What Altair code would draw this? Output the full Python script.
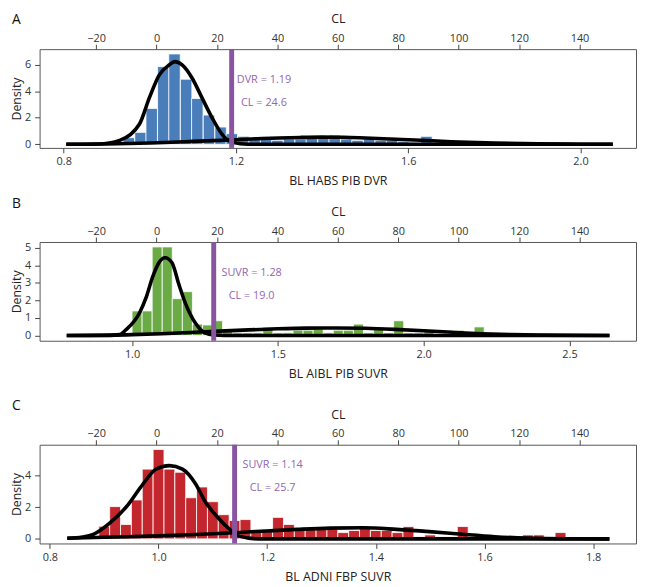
import altair as alt
import pandas as pd

FONT = "Open Sans"
W, H = 604, 100
PURPLE_LINE = "#8a55a0"
PURPLE_TEXT = "#9266b0"

CL_DOMAIN = [-38.7, 158.7]
CL_TICKS = [-20, 0, 20, 40, 60, 80, 100, 120, 140]

# ---------------- Panel A : HABS PIB DVR ----------------
a_bin_left = [0.938, 0.965, 0.991, 1.018, 1.044, 1.071, 1.097, 1.124, 1.151, 1.177,
              1.204, 1.230, 1.257, 1.283, 1.310, 1.337, 1.363, 1.390, 1.416, 1.443,
              1.469, 1.496, 1.523, 1.549, 1.576, 1.602, 1.629]
a_bin_width = 0.0266
a_density = [0.5, 0.9, 2.7, 5.85, 6.8, 4.9, 3.45, 2.2, 1.3, 0.8,
             0.6, 0.4, 0.4, 0.3, 0.4, 0.4, 0.45, 0.5, 0.7, 0.4,
             0.3, 0.4, 0.3, 0.3, 0.2, 0.15, 0.6]
a_c1_x = [0.806, 0.88, 0.93, 0.976, 0.999, 1.022, 1.045, 1.058, 1.075, 1.098,
          1.121, 1.144, 1.167, 1.182, 1.21, 1.25, 1.35, 1.6, 2.075]
a_c1_y = [0.0, 0.03, 0.3, 1.53, 3.51, 5.23, 5.97, 6.22, 5.97, 4.99,
          3.51, 2.03, 0.79, 0.3, 0.05, 0.0, 0.0, 0.0, 0.0]
a_c2_x = [0.806, 0.9, 1.0, 1.1, 1.2, 1.25, 1.3, 1.35, 1.4, 1.45, 1.5, 1.6,
          1.7, 1.8, 1.9, 2.0, 2.075]
a_c2_y = [0.0, 0.03, 0.1, 0.22, 0.35, 0.42, 0.48, 0.52, 0.54, 0.53, 0.48, 0.35,
          0.2, 0.1, 0.04, 0.01, 0.0]
a_cut = 1.19
a_cl = 24.6
a_labels = ["DVR = 1.19", "CL = 24.6"]
a_label_x = [1.265, 1.265]
a_label_y = [4.81, 3.07]
a_xdomain = [0.744, 2.129]
a_ydomain = [-0.27, 7.16]
a_xticks = [0.8, 1.2, 1.6, 2.0]
a_yticks = [0, 2, 4, 6]

# ---------------- Panel B : AIBL PIB SUVR ----------------
b_bin_left = [1.000, 1.0345, 1.069, 1.1035, 1.138, 1.1725, 1.207, 1.2415, 1.276, 1.3105,
              1.345, 1.3795, 1.414, 1.4485, 1.483, 1.5175, 1.552, 1.5865, 1.621, 1.6555,
              1.69, 1.7245, 1.759, 1.7935, 1.828, 1.8625, 1.897, 1.9315, 1.966, 2.0005,
              2.104, 2.173, 2.38, 2.4145]
b_bin_width = 0.0345
b_density = [1.4, 1.4, 5.05, 5.05, 2.1, 2.5, 0.65, 0.6, 0.84, 0.28,
             0.15, 0.15, 0.15, 0.47, 0.15, 0.15, 0.3, 0.3, 0.43, 0.15,
             0.3, 0.3, 0.65, 0.15, 0.47, 0.15, 0.84, 0.15, 0.15, 0.3,
             0.3, 0.49, 0.1, 0.1]
b_c1_x = [0.776, 0.9, 0.957, 0.98, 1.025, 1.049, 1.07, 1.092, 1.113, 1.137,
          1.16, 1.183, 1.217, 1.25, 1.28, 1.35, 1.6, 2.637]
b_c1_y = [0.0, 0.0, 0.05, 0.34, 1.27, 2.2, 3.31, 4.15, 4.43, 4.15,
          2.94, 1.83, 0.71, 0.15, 0.03, 0.0, 0.0, 0.0]
b_c2_x = [0.776, 1.0, 1.1, 1.2, 1.3, 1.4, 1.5, 1.6, 1.7, 1.8, 1.9, 2.0,
          2.1, 2.2, 2.3, 2.4, 2.637]
b_c2_y = [0.0, 0.05, 0.1, 0.17, 0.25, 0.32, 0.38, 0.42, 0.43, 0.41, 0.35, 0.27,
          0.18, 0.1, 0.05, 0.02, 0.0]
b_cut = 1.28
b_cl = 19.0
b_labels = ["SUVR = 1.28", "CL = 19.0"]
b_label_x = [1.41, 1.41]
b_label_y = [3.55, 2.23]
b_xdomain = [0.683, 2.728]
b_ydomain = [-0.3, 5.33]
b_xticks = [1.0, 1.5, 2.0, 2.5]
b_yticks = [0, 1, 2, 3, 4, 5]

# ---------------- Panel C : ADNI FBP SUVR ----------------
c_bin_left = [0.89, 0.91, 0.93, 0.95, 0.97, 0.99, 1.01, 1.03, 1.05, 1.07,
              1.09, 1.11, 1.13, 1.15, 1.17, 1.19, 1.21, 1.23, 1.25, 1.27,
              1.29, 1.31, 1.33, 1.35, 1.37, 1.39, 1.41, 1.43, 1.45, 1.47,
              1.49, 1.51, 1.53, 1.55, 1.57, 1.61, 1.67, 1.69, 1.73]
c_bin_width = 0.02
c_density = [0.8, 2.04, 0.91, 2.46, 4.41, 5.65, 4.41, 4.21, 2.6, 3.28,
             2.35, 1.53, 1.16, 1.22, 0.45, 0.6, 1.36, 0.91, 0.6, 0.6,
             0.6, 0.6, 0.4, 0.53, 0.78, 0.53, 0.53, 0.4, 0.78, 0.13,
             0.25, 0.13, 0.13, 0.78, 0.13, 0.13, 0.25, 0.25, 0.4]
c_c1_x = [0.832, 0.86, 0.88, 0.91, 0.94, 0.971, 0.995, 1.02, 1.044, 1.068, 1.086,
          1.11, 1.129, 1.147, 1.183, 1.25, 1.5, 1.83]
c_c1_y = [0.04, 0.12, 0.29, 1.0, 2.0, 3.45, 4.4, 4.63, 4.41, 3.49, 2.35,
          1.32, 0.66, 0.19, 0.0, 0.0, 0.0, 0.0]
c_c2_x = [0.832, 0.9, 1.0, 1.07, 1.14, 1.2, 1.256, 1.316, 1.377, 1.438,
          1.498, 1.559, 1.619, 1.68, 1.75, 1.83]
c_c2_y = [0.04, 0.1, 0.19, 0.28, 0.39, 0.5, 0.6, 0.68, 0.7, 0.6,
          0.46, 0.29, 0.14, 0.05, 0.01, 0.0]
c_cut = 1.14
c_cl = 25.7
c_labels = ["SUVR = 1.14", "CL = 25.7"]
c_label_x = [1.21, 1.21]
c_label_y = [4.64, 3.2]
c_xdomain = [0.781, 1.879]
c_ydomain = [-0.29, 5.95]
c_xticks = [0.8, 1.0, 1.2, 1.4, 1.6, 1.8]
c_yticks = [0, 2, 4]

TITLE_X = -23


def panel(letter, letter_y, color, bin_left, bin_width, density,
          c1x, c1y, c2x, c2y, cut, cl, labels, lx, ly,
          xdom, ydom, xticks, yticks, xtitle, spacer_y=None):
    xs = alt.Scale(domain=xdom, nice=False, zero=False)
    ys = alt.Scale(domain=ydom, nice=False, zero=False)
    xaxis = alt.Axis(values=xticks, format=".1f", title=xtitle, domain=False,
                     tickSize=5, tickColor="#444", labelPadding=3, grid=False,
                     titlePadding=8, labelOverlap=False, labelFlush=False)
    yaxis = alt.Axis(values=yticks, format="d", title="Density", domain=False, tickSize=5,
                     tickColor="#444", labelPadding=4, grid=False, labelOverlap=False,
                     labelFlush=False, labelBound=False,
                     titleX=TITLE_X, titleY=H / 2, titleAngle=-90,
                     titleBaseline="middle", titleAlign="center")

    def X(f):
        return alt.X(f, type="quantitative", scale=xs, axis=xaxis)

    def Y(f):
        return alt.Y(f, type="quantitative", scale=ys, axis=yaxis)

    bins = pd.DataFrame({"left": bin_left,
                         "right": [v + bin_width for v in bin_left],
                         "density": density,
                         "base": [0.0] * len(bin_left)})
    bars = alt.Chart(bins).mark_rect(color=color, stroke="white", strokeWidth=0.8).encode(
        x=X("left"), x2="right:Q", y=Y("density"), y2="base:Q")
    curve1 = alt.Chart(pd.DataFrame({"x": c1x, "y": c1y})).mark_line(
        color="black", strokeWidth=3.6, interpolate="monotone").encode(x=X("x"), y=Y("y"))
    curve2 = alt.Chart(pd.DataFrame({"x": c2x, "y": c2y})).mark_line(
        color="black", strokeWidth=3.6, interpolate="monotone").encode(x=X("x"), y=Y("y"))
    rule = alt.Chart(pd.DataFrame({"cut": [cut]})).mark_rule(
        color=PURPLE_LINE, strokeWidth=5).encode(x=X("cut"))
    ann = alt.Chart(pd.DataFrame({"x": lx, "y": ly, "t": labels})).mark_text(
        color=PURPLE_TEXT, fontSize=11, font=FONT, align="center", baseline="middle").encode(
        x=X("x"), y=Y("y"), text="t:N")
    let = alt.Chart(pd.DataFrame({"t": [letter]})).mark_text(
        fontSize=14, font=FONT, color="#111", align="center", baseline="alphabetic").encode(
        x=alt.value(TITLE_X - 0.5), y=alt.value(letter_y), text="t:N")
    layers = [bars, curve1, curve2, rule, ann, let]
    if spacer_y is not None:
        sp = alt.Chart(pd.DataFrame({"t": ["."]})).mark_text(
            fontSize=10, opacity=0, baseline="alphabetic").encode(
            x=alt.value(TITLE_X), y=alt.value(spacer_y), text="t:N")
        layers.append(sp)
    main = alt.layer(*layers)

    top = alt.Chart(pd.DataFrame({"cl": [cl]})).mark_point(opacity=0).encode(
        x=alt.X("cl:Q", scale=alt.Scale(domain=CL_DOMAIN, nice=False, zero=False),
                axis=alt.Axis(orient="top", values=CL_TICKS, title="CL", domain=False,
                              tickSize=5, tickColor="#444", labelPadding=1, grid=False,
                              titlePadding=6.6, labelOverlap=False, labelFlush=False)))
    return alt.layer(main, top).resolve_scale(x="independent").properties(width=W, height=H)


pa = panel("A", -25, "#4a7ebb", a_bin_left, a_bin_width, a_density,
           a_c1_x, a_c1_y, a_c2_x, a_c2_y, a_cut, a_cl, a_labels, a_label_x, a_label_y,
           a_xdomain, a_ydomain, a_xticks, a_yticks, "BL HABS PIB DVR")
pb = panel("B", -34, "#6aab45", b_bin_left, b_bin_width, b_density,
           b_c1_x, b_c1_y, b_c2_x, b_c2_y, b_cut, b_cl, b_labels, b_label_x, b_label_y,
           b_xdomain, b_ydomain, b_xticks, b_yticks, "BL AIBL PIB SUVR")
pc = panel("C", -35, "#c4262e", c_bin_left, c_bin_width, c_density,
           c_c1_x, c_c1_y, c_c2_x, c_c2_y, c_cut, c_cl, c_labels, c_label_x, c_label_y,
           c_xdomain, c_ydomain, c_xticks, c_yticks, "BL ADNI FBP SUVR", spacer_y=-46.7)

chart = alt.vconcat(pa, pb, pc, spacing=9.3).properties(
    padding={"left": 2, "top": 0, "right": 0, "bottom": 0}
).configure_view(
    stroke="#555", strokeWidth=1
).configure_axis(
    labelFont=FONT, labelFontSize=11, labelColor="#333", labelOverlap=False,
    titleFont=FONT, titleFontSize=12.5, titleFontWeight="normal", titleColor="#222",
)

chart.save("out.html", embed_options={"renderer": "svg", "actions": False})
